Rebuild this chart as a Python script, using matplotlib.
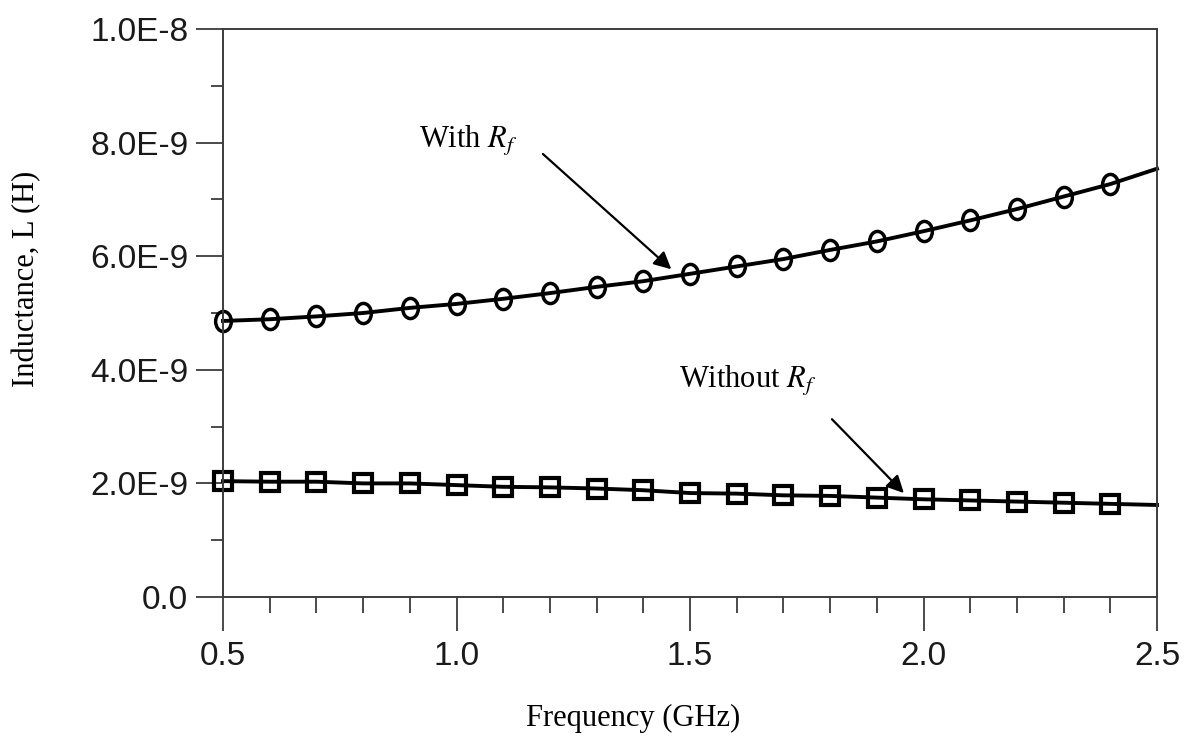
import matplotlib
matplotlib.use("Agg")
import matplotlib.pyplot as plt
import numpy as np
from matplotlib.path import Path
from matplotlib.transforms import Affine2D
from matplotlib.ticker import FixedLocator, MultipleLocator

# frequency points (GHz); markers sit on the first 20, the line runs to 2.5
freq = [0.5, 0.6, 0.7, 0.8, 0.9, 1.0, 1.1, 1.2, 1.3, 1.4,
        1.5, 1.6, 1.7, 1.8, 1.9, 2.0, 2.1, 2.2, 2.3, 2.4, 2.5]
with_rf = [4.86, 4.89, 4.94, 5.00, 5.09, 5.16, 5.25, 5.35, 5.46, 5.56,
           5.69, 5.82, 5.95, 6.11, 6.26, 6.44, 6.63, 6.83, 7.05, 7.27, 7.54]
without_rf = [2.04, 2.03, 2.03, 2.00, 2.00, 1.97, 1.94, 1.93, 1.91, 1.88,
              1.83, 1.82, 1.79, 1.78, 1.75, 1.72, 1.70, 1.68, 1.66, 1.64, 1.62]

xticks = [0.5, 1.0, 1.5, 2.0, 2.5]
xtick_labels = ["0.5", "1.0", "1.5", "2.0", "2.5"]
yticks = [0.0, 2e-9, 4e-9, 6e-9, 8e-9, 1e-8]
ytick_labels = ["0.0", "2.0E-9", "4.0E-9", "6.0E-9", "8.0E-9", "1.0E-8"]

plt.rcParams["mathtext.fontset"] = "stix"
serif = "Liberation Serif"
sans = "Liberation Sans"
axis_gray = "#3c3c3c"

W, H = 1189, 753
fig = plt.figure(figsize=(W / 100, H / 100), dpi=100)
ax = fig.add_axes([223 / W, 1 - 597 / H, (1157 - 223) / W, (597 - 29) / H])

f = np.array(freq)
L1 = np.array(with_rf) * 1e-9
L2 = np.array(without_rf) * 1e-9

# slightly tall ellipse for the "with" markers
ellipse = Path.unit_circle().transformed(Affine2D().scale(0.78, 1.0))

ax.plot(f, L1, color="black", lw=2.8, marker=ellipse, ms=14.5, mfc="none",
        mec="black", mew=2.5, markevery=slice(0, 20), clip_on=False)
ax.plot(f, L2, color="black", lw=2.8, marker="s", ms=13, mfc="none",
        mec="black", mew=3.0, markevery=slice(0, 20), clip_on=False)

ax.set_xlim(0.5, 2.5)
ax.set_ylim(0, 1e-8)

ax.xaxis.set_major_locator(FixedLocator(xticks))
ax.set_xticklabels(xtick_labels)
ax.xaxis.set_minor_locator(MultipleLocator(0.1))
ax.yaxis.set_major_locator(FixedLocator(yticks))
ax.set_yticklabels(ytick_labels)
ax.yaxis.set_minor_locator(MultipleLocator(1e-9))

ax.tick_params(axis="both", which="both", direction="out", color=axis_gray,
               width=1.3, top=False, right=False)
ax.tick_params(axis="x", which="major", length=24.5, pad=7)
ax.tick_params(axis="x", which="minor", length=11.5)
ax.tick_params(axis="y", which="major", length=19.5, pad=5.5)
ax.tick_params(axis="y", which="minor", length=9)
for lab in ax.get_xticklabels() + ax.get_yticklabels():
    lab.set_fontfamily(sans)
    lab.set_fontsize(24)
    lab.set_color("#1a1a1a")

for sp in ax.spines.values():
    sp.set_color(axis_gray)
    sp.set_linewidth(1.4)

# axis titles
fig.text(633 / W, 1 - 718 / H, "Frequency (GHz)", family=serif, fontsize=22,
         ha="center", va="center")
fig.text(27 / W, 1 - 279 / H, "Inductance, L (H)", family=serif, fontsize=22,
         ha="center", va="center", rotation=90)

# curve annotations
arrow = dict(arrowstyle="-|>", color="black", lw=1.6, mutation_scale=26,
             shrinkA=0, shrinkB=0)
ax.annotate("", xy=(1.46, 5.77e-9), xytext=(1.185, 7.80e-9), arrowprops=arrow)
ax.text(1.025, 7.90e-9, r"With $R_f$", family=serif, fontsize=22,
        ha="center", va="baseline")
ax.annotate("", xy=(1.958, 1.83e-9), xytext=(1.804, 3.13e-9), arrowprops=arrow)
ax.text(1.623, 3.68e-9, r"Without $R_f$", family=serif, fontsize=22,
        ha="center", va="baseline")

fig.savefig("out.png", dpi=100)
